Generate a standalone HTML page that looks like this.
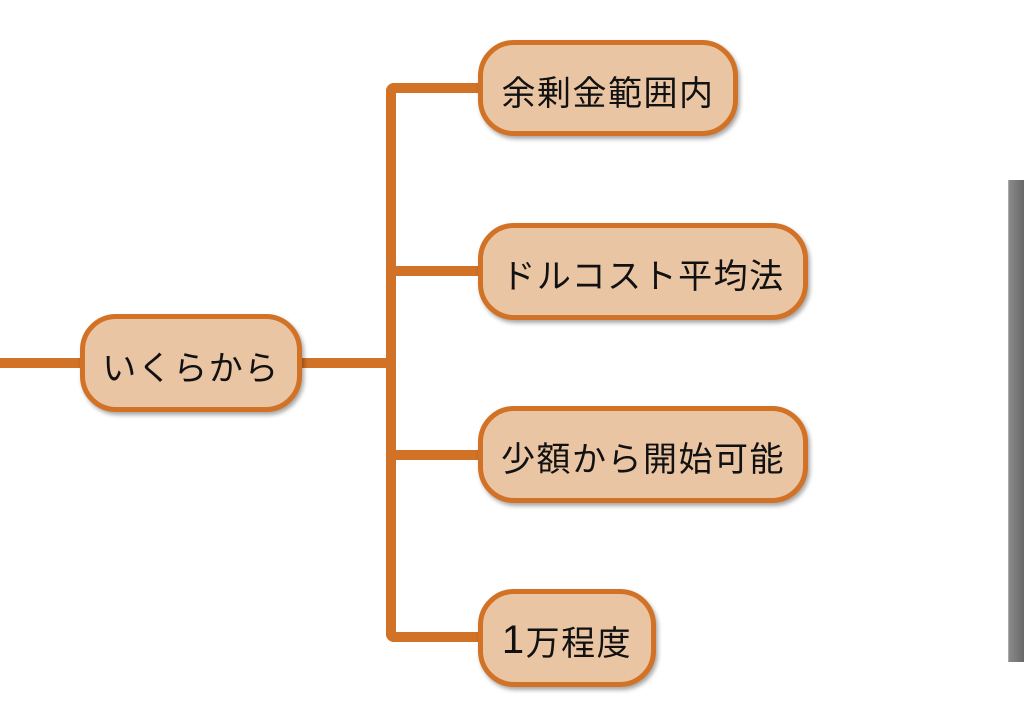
<!DOCTYPE html>
<html><head><meta charset="utf-8"><style>
body{margin:0;width:1024px;height:726px;background:#fff;position:relative;overflow:hidden;font-family:"Liberation Sans","Noto Sans CJK JP",sans-serif;}
.l{position:absolute;background:#d27226;}
.n{position:absolute;box-sizing:border-box;border:5px solid #d27226;background:#eac5a4;border-radius:36px;display:flex;align-items:center;justify-content:center;font-size:34px;color:#111;box-shadow:2px 3px 4px rgba(0,0,0,0.35);letter-spacing:1.5px;padding-top:4px;}
</style></head><body>
<div class="l" style="left:0;top:358px;width:90px;height:10px"></div>
<div class="l" style="left:295px;top:358px;width:100px;height:10px"></div>
<div class="l" style="left:386px;top:83px;width:10px;height:559px;border-radius:8px 0 0 8px"></div>
<div class="l" style="left:386px;top:83px;width:100px;height:10px;border-radius:8px 0 0 0"></div>
<div class="l" style="left:386px;top:266px;width:100px;height:10px"></div>
<div class="l" style="left:386px;top:450px;width:100px;height:10px"></div>
<div class="l" style="left:386px;top:632px;width:100px;height:10px;border-radius:0 0 0 8px"></div>
<div class="n" style="left:80px;top:314px;width:222px;height:98px">いくらから</div>
<div class="n" style="left:478px;top:40px;width:260px;height:96px">余剰金範囲内</div>
<div class="n" style="left:478px;top:223px;width:330px;height:97px">ドルコスト平均法</div>
<div class="n" style="left:478px;top:406px;width:330px;height:97px">少額から開始可能</div>
<div class="n" style="left:478px;top:589px;width:178px;height:98px"><span style="font-size:40px">1</span>万程度</div>
<div style="position:absolute;left:1008px;top:180px;width:16px;height:482px;background:linear-gradient(90deg,#8a8a8a,#666);border-left:1px solid #aaa"></div>
</body></html>
